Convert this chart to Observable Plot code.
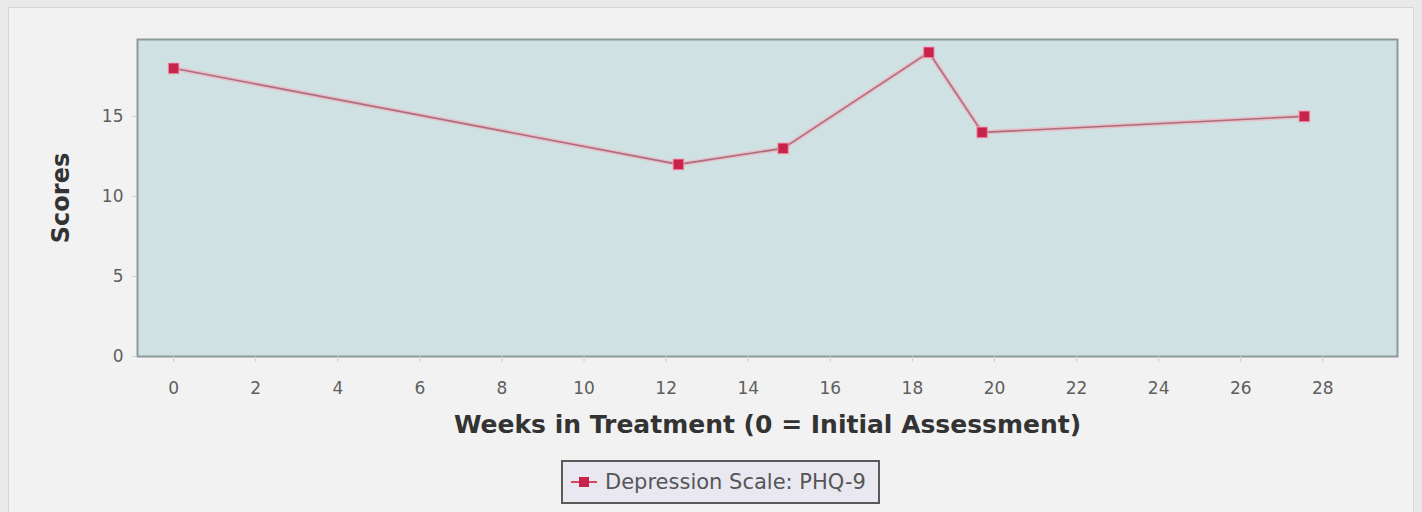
<!DOCTYPE html>
<html>
<head>
<meta charset="utf-8">
<script src="https://cdn.jsdelivr.net/npm/d3@7"></script>
<script src="https://cdn.jsdelivr.net/npm/@observablehq/plot@0.6"></script>
<style>
  html, body { margin: 0; padding: 0; background: #e9e9e9; width: 1422px; height: 512px; overflow: hidden; }
  #wrap { position: relative; width: 1422px; height: 512px; }
  #panel { position: absolute; left: 8px; top: 7px; width: 1404px; height: 520px; background: #f2f2f2; border: 1px solid #d6d6d6; }
  #chart { position: absolute; left: 0; top: 0; }
  #legend { position: absolute; left: 561px; top: 460px; width: 319px; height: 44px; box-sizing: border-box;
            background: #e9e8f1; border: 2px solid #5a5a5a; display: flex; align-items: center;
            font-family: "DejaVu Sans", sans-serif; font-size: 21px; color: #555; white-space: nowrap; }
  #legend svg { margin-left: 8px; margin-right: 8px; }
</style>
</head>
<body>
<div id="wrap">
  <div id="panel"></div>
  <div id="chart"></div>
  <div id="legend"></div>
</div>
<script>
const seriesName = "Depression Scale: PHQ-9";
const weeks = [0, 12.3, 14.85, 18.4, 19.7, 27.55];
const scores = [18, 12, 13, 19, 14, 15];
const xTicks = [0, 2, 4, 6, 8, 10, 12, 14, 16, 18, 20, 22, 24, 26, 28];
const yTicks = [0, 5, 10, 15];
const xLabel = "Weeks in Treatment (0 = Initial Assessment)";
const yLabel = "Scores";

const data = weeks.map((w, i) => ({week: w, score: scores[i]}));
const haloColor = "#f0b4c2";
const lineColor = "#a8707c";
const dotColor = "#c8234b";

const chart = Plot.plot({
  width: 1422,
  height: 455,
  marginLeft: 137,
  marginRight: 25,
  marginTop: 39,
  marginBottom: 99,
  style: {background: "transparent", fontFamily: "DejaVu Sans, sans-serif"},
  x: {domain: [-0.88, 29.82]},
  y: {domain: [0, 19.8]},
  marks: [
    Plot.frame({fill: "#cfe1e2", stroke: null}),
    Plot.line(data, {x: "week", y: "score", stroke: haloColor, strokeWidth: 4.5, strokeOpacity: 0.8}),
    Plot.line(data, {x: "week", y: "score", stroke: lineColor, strokeWidth: 1.6}),
    Plot.dot(data, {x: "week", y: "score", symbol: "square", r: 6, fill: dotColor, stroke: "#f4a0b4", strokeWidth: 1.5, strokeOpacity: 0.6}),
    Plot.frame({stroke: "#8a9a9a", strokeWidth: 2}),
    Plot.axisX({ticks: xTicks, tickSize: 6, tickPadding: 19, fontSize: 17, color: "#5e5e5e", stroke: "#cfcfcf",
      label: xLabel, labelAnchor: "center", labelArrow: "none", labelOffset: 76}),
    Plot.axisY({ticks: yTicks, tickSize: 5, tickPadding: 9, fontSize: 17, color: "#5e5e5e", stroke: "#cfcfcf",
      label: null}),
    Plot.axisY({ticks: [], tickSize: 0, label: yLabel, labelAnchor: "center", labelArrow: "none", labelOffset: 86})
  ]
});
document.getElementById("chart").appendChild(chart);

// style axis titles
d3.select(chart).selectAll("g[aria-label='x-axis label'] text")
  .attr("font-weight", "bold").attr("fill", "#333").attr("font-size", 25);
d3.select(chart).selectAll("g[aria-label='y-axis label'] text")
  .attr("font-weight", "bold").attr("fill", "#333").attr("font-size", 24);

// legend
const leg = document.getElementById("legend");
const sw = d3.create("svg").attr("width", 26).attr("height", 14);
sw.append("line").attr("x1", 0).attr("x2", 26).attr("y1", 7).attr("y2", 7).attr("stroke", "#d04a66").attr("stroke-width", 2);
sw.append("rect").attr("x", 8).attr("y", 2).attr("width", 10).attr("height", 10).attr("fill", dotColor);
leg.appendChild(sw.node());
const span = document.createElement("span");
span.textContent = seriesName;
leg.appendChild(span);
</script>
</body>
</html>
